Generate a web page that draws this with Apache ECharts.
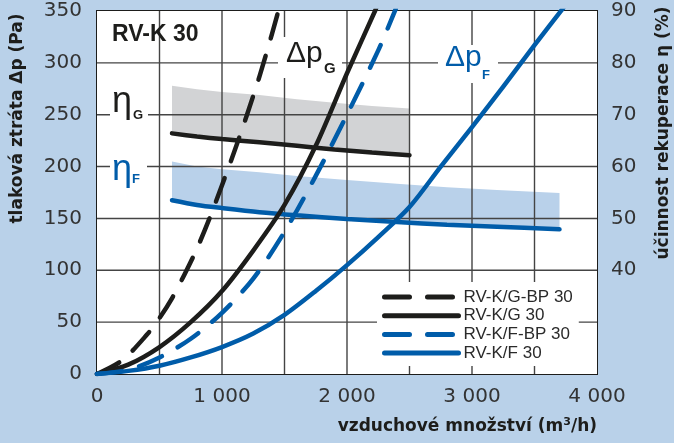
<!DOCTYPE html>
<html>
<head>
<meta charset="utf-8">
<title>RV-K 30</title>
<script src="https://cdn.jsdelivr.net/npm/echarts@6/dist/echarts.min.js"></script>
<style>
  html, body { margin: 0; padding: 0; background: #b9d1e9; }
  #wrap { position: relative; width: 674px; height: 443px; }
  /* bílá plocha grafu s rámečkem, pod plátnem */
  #plot { position: absolute; left: 95.5px; top: 9.5px; width: 500px; height: 363px;
          background: #fff; border: 1.5px solid #1d1d1b; box-sizing: content-box; }
  #chart { position: absolute; left: 0; top: 0; width: 674px; height: 443px; }
</style>
</head>
<body>
<div id="wrap">
  <div id="plot"></div>
  <div id="chart"></div>
</div>
<script>
// tlaková ztráta: průtok (m3/h) -> Δp (Pa)
var flowGBP = [0, 200, 400, 500, 600, 700, 800, 900, 1000, 1100, 1200, 1300, 1400, 1460];
var dpGBP   = [0, 13, 38, 54, 73, 96, 121, 150, 182, 215, 250, 287, 328, 354];

var flowG = [0, 250, 500, 750, 1000, 1250, 1500, 1750, 2000, 2224, 2240];
var dpG   = [0, 9, 26, 50, 80, 119, 163, 220, 290, 350, 355];

var flowFBP = [0, 250, 500, 750, 1000, 1250, 1500, 1750, 2000, 2250, 2390];
var dpFBP   = [0, 4, 16, 34, 59, 92, 137, 191, 250, 312, 352];

var flowF = [0, 250, 500, 750, 1000, 1250, 1500, 1750, 2000, 2250, 2500, 2750, 3000, 3250, 3500, 3750];
var dpF   = [0, 3, 8, 16, 26, 39, 57, 80, 105, 132, 161, 200, 238, 277, 317, 356];

// účinnost rekuperace (%) - čára a horní okraj pásu
var etaFlowG = [600, 800, 1000, 1300, 1600, 1900, 2200, 2500];
var etaG     = [66.4, 65.8, 65.3, 64.7, 64.0, 63.3, 62.7, 62.2];
var etaTopG  = [75.6, 74.9, 74.4, 73.8, 73.0, 72.3, 71.7, 71.2];

var etaFlowF = [600, 800, 1000, 1300, 1600, 2000, 2400, 2800, 3200, 3700];
var etaF     = [53.5, 52.6, 52.0, 51.2, 50.6, 49.9, 49.3, 48.8, 48.4, 47.9];
var etaTopF  = [61.0, 60.0, 59.5, 58.9, 58.2, 57.4, 56.7, 56.0, 55.5, 54.9];

// mřížka
var gridFlows = [500, 1000, 1500, 2000, 2500, 3000, 3500];
var gridPress = [50, 100, 150, 200, 250, 300];

var names = ['RV-K/G-BP 30', 'RV-K/G 30', 'RV-K/F-BP 30', 'RV-K/F 30'];

var ink = '#1d1d1b';
var blue = '#005ca9';
var tickFont = 'DejaVu Sans';

function pairs(xs, ys) {
  return xs.map(function (x, i) { return [x, ys[i]]; });
}

function thousands(v) {
  if (v < 1000) return String(v);
  var rest = String(v % 1000);
  while (rest.length < 3) rest = '0' + rest;
  return Math.floor(v / 1000) + ' ' + rest;
}

function curve(name, xs, ys, color, dashed) {
  return {
    name: name,
    type: 'line',
    data: pairs(xs, ys),
    symbol: 'none',
    smooth: 0.3,
    z: 3,
    itemStyle: { color: color },
    lineStyle: { color: color, width: 4.5, type: dashed ? [25, 18] : 'solid', cap: 'round', join: 'round' }
  };
}

function etaLine(xs, ys, color) {
  return {
    type: 'line',
    yAxisIndex: 1,
    data: pairs(xs, ys),
    symbol: 'none',
    smooth: 0.3,
    z: 3,
    lineStyle: { color: color, width: 4.5, cap: 'round' }
  };
}

// pás mezi čárou účinnosti a horním okrajem (pod mřížkou)
function band(xs, lo, hi, color) {
  return {
    type: 'custom',
    yAxisIndex: 1,
    z: -1,
    silent: true,
    data: pairs(xs, lo),
    renderItem: function (params, api) {
      if (params.dataIndex !== 0) return;
      var pts = [];
      for (var i = 0; i < xs.length; i++) pts.push(api.coord([xs[i], hi[i]]));
      for (var j = xs.length - 1; j >= 0; j--) pts.push(api.coord([xs[j], lo[j]]));
      return { type: 'polygon', shape: { points: pts }, style: { fill: color } };
    }
  };
}

// čáry mřížky přes pásy, pod křivkami
function gridSeries(vertical) {
  var vals = vertical ? gridFlows : gridPress;
  return {
    type: 'custom',
    z: 0,
    silent: true,
    data: vals.map(function (v) { return vertical ? [v, 0] : [0, v]; }),
    renderItem: function (params, api) {
      var v = vals[params.dataIndex];
      var a = api.coord(vertical ? [v, 0] : [0, v]);
      var b = api.coord(vertical ? [v, 350] : [4000, v]);
      return {
        type: 'line',
        shape: { x1: a[0], y1: a[1], x2: b[0], y2: b[1] },
        style: { stroke: '#444', lineWidth: 1.4 }
      };
    }
  };
}

var chart = echarts.init(document.getElementById('chart'));

var labelBase = { fontFamily: tickFont, fontSize: 20, color: '#333' };

chart.setOption({
  backgroundColor: 'transparent',
  animation: false,
  grid: { left: 97, top: 11, width: 500, height: 363, show: false },
  xAxis: {
    type: 'value', min: 0, max: 4000, interval: 500,
    axisLine: { show: false }, axisTick: { show: false },
    splitLine: { show: false },
    axisLabel: Object.assign({ margin: 13, formatter: function (v) {
      return v % 1000 === 0 ? thousands(v) : '';
    } }, labelBase)
  },
  yAxis: [
    {
      type: 'value', min: 0, max: 350, interval: 50,
      axisLine: { show: false }, axisTick: { show: false },
      splitLine: { show: false },
      axisLabel: Object.assign({ margin: 15 }, labelBase)
    },
    {
      type: 'value', position: 'right', min: 20, max: 90, interval: 10,
      axisLine: { show: false }, axisTick: { show: false },
      splitLine: { show: false },
      axisLabel: Object.assign({ margin: 14, formatter: function (v) {
        return v >= 40 ? String(v) : '';
      } }, labelBase)
    }
  ],
  legend: {
    orient: 'vertical', left: 377, top: 282,
    backgroundColor: '#fff', padding: [6, 6, 4, 5],
    itemWidth: 74, itemHeight: 18, itemGap: 0.7,
    selectedMode: false,
    data: names,
    itemStyle: { opacity: 0 },
    lineStyle: { width: 5 },
    textStyle: { fontFamily: 'Liberation Sans', fontSize: 17, color: '#2a2a2a', lineHeight: 18 }
  },
  graphic: [
    { type: 'text', x: 112, y: 35, z: 5, style: { text: 'RV-K 30', font: 'bold 23px "Liberation Sans"', fill: ink, align: 'left', verticalAlign: 'middle' } },

    { type: 'rect', z: 5, shape: { x: 278, y: 37, width: 64, height: 41 }, style: { fill: '#fff' } },
    { type: 'text', x: 286, y: 54, z: 6, style: { text: 'Δp', font: '30px "Liberation Sans"', fill: ink, align: 'left', verticalAlign: 'middle' } },
    { type: 'text', x: 324, y: 69, z: 6, style: { text: 'G', font: 'bold 15px "Liberation Sans"', fill: ink, align: 'left', verticalAlign: 'middle' } },

    { type: 'rect', z: 5, shape: { x: 438, y: 45, width: 60, height: 38 }, style: { fill: '#fff' } },
    { type: 'text', x: 445, y: 58, z: 6, style: { text: 'Δp', font: '30px "Liberation Sans"', fill: blue, align: 'left', verticalAlign: 'middle' } },
    { type: 'text', x: 482, y: 75, z: 6, style: { text: 'F', font: 'bold 13px "Liberation Sans"', fill: blue, align: 'left', verticalAlign: 'middle' } },

    { type: 'rect', z: 5, shape: { x: 110, y: 93, width: 38, height: 36 }, style: { fill: '#fff' } },
    { type: 'text', x: 112, y: 102.5, z: 6, style: { text: 'η', font: '36px "Liberation Sans"', fill: ink, align: 'left', verticalAlign: 'middle' } },
    { type: 'text', x: 133, y: 115, z: 6, style: { text: 'G', font: 'bold 13px "Liberation Sans"', fill: ink, align: 'left', verticalAlign: 'middle' } },

    { type: 'rect', z: 5, shape: { x: 110, y: 158, width: 37, height: 34 }, style: { fill: '#fff' } },
    { type: 'text', x: 112, y: 170.5, z: 6, style: { text: 'η', font: '36px "Liberation Sans"', fill: blue, align: 'left', verticalAlign: 'middle' } },
    { type: 'text', x: 132, y: 179.5, z: 6, style: { text: 'F', font: 'bold 13px "Liberation Sans"', fill: blue, align: 'left', verticalAlign: 'middle' } },

    { type: 'text', x: 17.5, y: 118.5, rotation: Math.PI / 2, z: 6, style: { text: 'tlaková ztráta Δp (Pa)', font: 'bold 17px "DejaVu Sans"', fill: ink, align: 'center', verticalAlign: 'middle' } },
    { type: 'text', x: 663.5, y: 133, rotation: Math.PI / 2, z: 6, style: { text: 'účinnost rekuperace η (%)', font: 'bold 17px "DejaVu Sans"', fill: ink, align: 'center', verticalAlign: 'middle' } },
    { type: 'text', x: 597, y: 427, z: 6, style: {
      text: '{a|vzduchové množství (m}{s|3}{a|/h)}',
      align: 'right', verticalAlign: 'middle',
      rich: {
        a: { fontFamily: 'DejaVu Sans', fontWeight: 'bold', fontSize: 17, lineHeight: 20, fill: ink, color: ink },
        s: { fontFamily: 'DejaVu Sans', fontWeight: 'bold', fontSize: 11, lineHeight: 11, verticalAlign: 'top', fill: ink, color: ink }
      }
    } }
  ],
  series: [
    band(etaFlowG, etaG, etaTopG, '#d2d3d5'),
    band(etaFlowF, etaF, etaTopF, '#b9d1ea'),
    gridSeries(true),
    gridSeries(false),
    etaLine(etaFlowG, etaG, ink),
    etaLine(etaFlowF, etaF, blue),
    curve(names[0], flowGBP, dpGBP, ink, true),
    curve(names[1], flowG, dpG, ink, false),
    curve(names[2], flowFBP, dpFBP, blue, true),
    curve(names[3], flowF, dpF, blue, false)
  ]
});
</script>
</body>
</html>
